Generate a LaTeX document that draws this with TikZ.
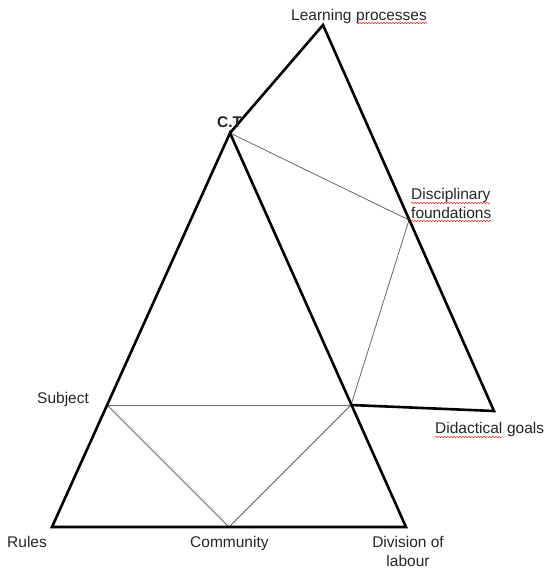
\documentclass[tikz,border=0pt]{standalone}
\usepackage{fontspec}
\setmainfont{Liberation Sans}
\usetikzlibrary{decorations.pathmorphing}

\tikzset{
  side/.style={line width=2.6pt, line join=miter},
  link/.style={line width=0.8pt, black!60},
  lbl/.style={font=\fontsize{15.5}{18}\selectfont, inner sep=0pt, anchor=base west, text=black!85},
  spell/.style={red!85, line width=0.5pt, decorate,
    decoration={snake, amplitude=0.7pt, segment length=3pt}},
}

\begin{document}
\begin{tikzpicture}[x=1pt, y=-1pt]
	\useasboundingbox (0,0) rectangle (554,568);
	% corners of the two triangles
	\coordinate (lp) at (323,25);
	\coordinate (ct) at (230,133);
	\coordinate (df) at (409,220);
	\coordinate (dg) at (494,411);
	\coordinate (mid) at (351,405);
	\coordinate (sub) at (107,405);
	\coordinate (bl) at (52,527);
	\coordinate (br) at (406,527);
	\coordinate (com) at (229,527);

	% thin inner lines
	\draw[link] (ct) -- (df) -- (mid);
	\draw[link] (sub) -- (mid);
	\draw[link] (sub) -- (com) -- (mid);

	% outer sides
	\draw[side] (ct) -- (bl) -- (br) -- cycle;
	\draw[side] (ct) -- (lp) -- (dg) -- (mid);

	% labels
	\node[lbl] (lrn) at (291,20) {Learning};
	\node[lbl] (prc) at ([xshift=4.3pt]lrn.base east) {processes};
	\node[lbl, font=\fontsize{15.5}{18}\selectfont\bfseries] (ctl) at (217,127) {C.T};
	\node[lbl] (dsc) at (411,199) {Disciplinary};
	\node[lbl] (fnd) at (411,218) {foundations};
	\node[lbl] (dct) at (435,433) {Didactical};
	\node[lbl] (gls) at ([xshift=4.3pt]dct.base east) {goals};
	\node[lbl] (sbj) at (37,403) {Subject};
	\node[lbl] (rls) at (7,547) {Rules};
	\node[lbl] (cmm) at (190,547) {Community};
	\node[lbl, anchor=base] (dvs) at (408,547) {Division of};
	\node[lbl, anchor=base] (lab) at (408,566) {labour};

	% spelling marks under some words
	\draw[spell] ([yshift=-3pt]prc.base west) -- ([yshift=-3pt]prc.base east);
	\draw[spell] ([yshift=-4pt]dsc.base west) -- ([yshift=-4pt]dsc.base east);
	\draw[spell] ([yshift=-3pt]fnd.base west) -- ([yshift=-3pt]fnd.base east);
	\draw[spell] ([yshift=-4pt]dct.base west) -- ([yshift=-4pt]dct.base east);
\end{tikzpicture}
\end{document}
